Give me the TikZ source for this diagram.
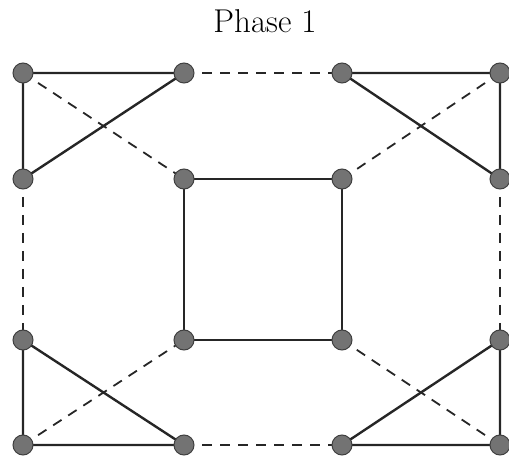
\documentclass[tikz,border=0pt]{standalone}
\begin{document}
\begin{tikzpicture}[x=1pt,y=-1pt,
  vtx/.style={circle,fill=black!55,draw=black!75,line width=1pt,minimum size=20pt,inner sep=0pt},
  sol/.style={line width=2.4pt,draw=black!85},
  dsh/.style={line width=1.8pt,draw=black!85,dash pattern=on 10pt off 8pt}]
\useasboundingbox (0,0) rectangle (509,462);
\node[font=\fontsize{33}{40}\selectfont,anchor=base] (title) at (265,33) {Phase 1};
% columns 23,184,342,500 ; rows 73,179,340,445
\coordinate (p11) at (23,73);  \coordinate (p12) at (184,73);  \coordinate (p13) at (342,73);  \coordinate (p14) at (500,73);
\coordinate (p21) at (23,179); \coordinate (p22) at (184,179); \coordinate (p23) at (342,179); \coordinate (p24) at (500,179);
\coordinate (p31) at (23,340); \coordinate (p32) at (184,340); \coordinate (p33) at (342,340); \coordinate (p34) at (500,340);
\coordinate (p41) at (23,445); \coordinate (p42) at (184,445); \coordinate (p43) at (342,445); \coordinate (p44) at (500,445);
% dashed
\draw[dsh] (p11) -- (p22);
\draw[dsh] (p12) -- (p13);
\draw[dsh] (p14) -- (p23);
\draw[dsh] (p21) -- (p31);
\draw[dsh] (p24) -- (p34);
\draw[dsh] (p41) -- (p32);
\draw[dsh] (p42) -- (p43);
\draw[dsh] (p44) -- (p33);
% solid
\draw[sol] (p12) -- (p11) -- (p21) -- cycle;
\draw[sol] (p13) -- (p14) -- (p24) -- cycle;
\draw[sol] (p31) -- (p41) -- (p42) -- cycle;
\draw[sol] (p34) -- (p44) -- (p43) -- cycle;
\draw[sol] (p22) -- (p23) -- (p33) -- (p32) -- cycle;
% vertices
\foreach \n in {11,12,13,14,21,22,23,24,31,32,33,34,41,42,43,44}
  \node[vtx] (v\n) at (p\n) {};
\end{tikzpicture}
\end{document}
